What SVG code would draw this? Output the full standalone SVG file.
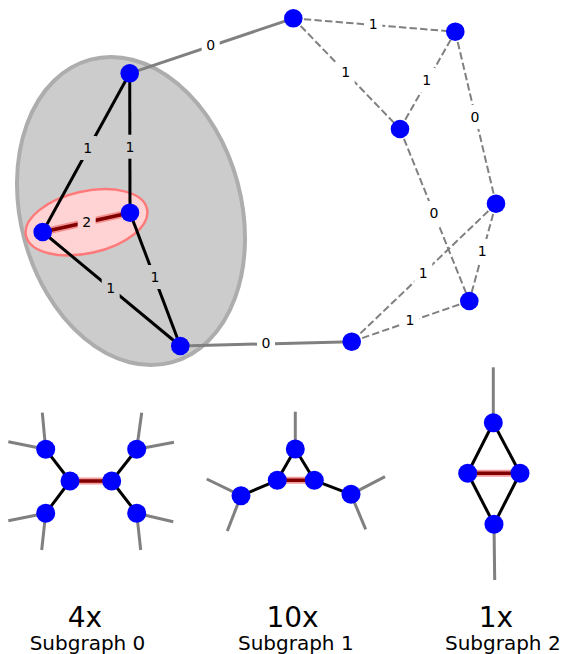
<svg xmlns="http://www.w3.org/2000/svg" width="566" height="654" viewBox="0 0 566 654">
<style>
.node{fill:#0000ff}
.solid{stroke:#808080;stroke-width:3;fill:none}
.dash{stroke:#808080;stroke-width:2;stroke-dasharray:7.4 3.2;fill:none}
.blk{stroke:#000;stroke-width:3;fill:none}
.halo{stroke:#f07070;stroke-width:7;stroke-opacity:0.7;fill:none}
.red{stroke:#800000;stroke-width:3.5;fill:none}
.stub{stroke:#808080;stroke-width:3;fill:none}
.lbl{font-family:"DejaVu Sans",Verdana,sans-serif;font-size:14px;fill:#000;text-anchor:middle}
.big{font-family:"DejaVu Sans",Verdana,sans-serif;font-size:28px;fill:#000;text-anchor:middle}
.cap{font-family:"DejaVu Sans",Verdana,sans-serif;font-size:20px;fill:#000;text-anchor:middle}
</style>
<defs>
<mask id="gaps" maskUnits="userSpaceOnUse" x="0" y="0" width="566" height="654">
<rect x="0" y="0" width="566" height="654" fill="#fff"/>
<g fill="#000">
<rect x="78.7" y="136" width="18" height="24"/>
<rect x="121" y="134.7" width="18" height="24"/>
<rect x="77.7" y="209.7" width="18" height="24"/>
<rect x="101.7" y="276" width="18" height="24"/>
<rect x="146" y="265" width="18" height="24"/>
<rect x="201.7" y="33" width="18" height="24"/>
<rect x="257" y="331" width="18" height="24"/>
<rect x="364.3" y="12" width="18" height="24"/>
<rect x="336.7" y="60.3" width="18" height="24"/>
<rect x="417.7" y="68" width="18" height="24"/>
<rect x="466" y="105" width="18" height="24"/>
<rect x="425" y="201" width="18" height="24"/>
<rect x="414.3" y="260.7" width="18" height="24"/>
<rect x="473.3" y="239" width="18" height="24"/>
<rect x="401" y="308" width="18" height="24"/>
</g>
</mask>
</defs>

<g id="cluster-outer">
<ellipse cx="131" cy="211" rx="110.3" ry="156.7" transform="rotate(-15 131 211)" fill="#cccccc" stroke="#adadad" stroke-width="4"/>
</g>
<g id="cluster-inner">
<ellipse cx="86.5" cy="222.3" rx="62" ry="31" transform="rotate(-12.5 86.5 222.3)" fill="#ffd3d3" stroke="#ff7b7b" stroke-width="2.5"/>
</g>

<g id="connectors" mask="url(#gaps)">
<line class="solid" x1="129.7" y1="73.3" x2="293.3" y2="18.3"/>
<line class="solid" x1="180.3" y1="346" x2="351.7" y2="341.7"/>
<line class="blk" x1="129.7" y1="73.3" x2="42.7" y2="232"/>
<line class="blk" x1="129.7" y1="73.3" x2="130" y2="212.7"/>
<line class="blk" x1="130" y1="212.7" x2="180.3" y2="346"/>
<line class="blk" x1="42.7" y1="232" x2="180.3" y2="346"/>
<line class="halo" x1="42.7" y1="232" x2="130" y2="212.7"/>
<line class="red" x1="42.7" y1="232" x2="130" y2="212.7"/>
<line class="dash" x1="293.3" y1="18.3" x2="455.3" y2="31.7"/>
<line class="dash" x1="293.3" y1="18.3" x2="400" y2="129"/>
<line class="dash" x1="400" y1="129" x2="455.3" y2="31.7"/>
<line class="dash" x1="455.3" y1="31.7" x2="496" y2="203.7"/>
<line class="dash" x1="400" y1="129" x2="469.3" y2="301"/>
<line class="dash" x1="496" y1="203.7" x2="351.7" y2="341.7"/>
<line class="dash" x1="496" y1="203.7" x2="469.3" y2="301"/>
<line class="dash" x1="469.3" y1="301" x2="351.7" y2="341.7"/>
</g>

<g id="edge-labels">
<text class="lbl" x="87.7" y="153.1">1</text>
<text class="lbl" x="130" y="151.8">1</text>
<text class="lbl" x="86.7" y="226.8">2</text>
<text class="lbl" x="110.7" y="293.1">1</text>
<text class="lbl" x="155" y="282.1">1</text>
<text class="lbl" x="210.7" y="50.1">0</text>
<text class="lbl" x="266" y="348.1">0</text>
<text class="lbl" x="373.3" y="29.1">1</text>
<text class="lbl" x="345.7" y="77.4">1</text>
<text class="lbl" x="426.7" y="85.1">1</text>
<text class="lbl" x="475" y="122.1">0</text>
<text class="lbl" x="434" y="218.1">0</text>
<text class="lbl" x="423.3" y="277.8">1</text>
<text class="lbl" x="482.3" y="256.1">1</text>
<text class="lbl" x="410" y="325.1">1</text>
</g>

<g id="node-A"><circle class="node" cx="129.7" cy="73.3" r="9.3"/></g>
<g id="node-B"><circle class="node" cx="130" cy="212.7" r="9.3"/></g>
<g id="node-C"><circle class="node" cx="42.7" cy="232" r="9.3"/></g>
<g id="node-D"><circle class="node" cx="180.3" cy="346" r="9.3"/></g>
<g id="node-E"><circle class="node" cx="293.3" cy="18.3" r="9.3"/></g>
<g id="node-F"><circle class="node" cx="455.3" cy="31.7" r="9.3"/></g>
<g id="node-G"><circle class="node" cx="400" cy="129" r="9.3"/></g>
<g id="node-H"><circle class="node" cx="496" cy="203.7" r="9.3"/></g>
<g id="node-I"><circle class="node" cx="469.3" cy="301" r="9.3"/></g>
<g id="node-J"><circle class="node" cx="351.7" cy="341.7" r="9.3"/></g>

<g id="subgraph-0">
<g class="connectors">
<line class="stub" x1="45.7" y1="449.3" x2="42.3" y2="412.7"/>
<line class="stub" x1="45.7" y1="449.3" x2="8.3" y2="441.7"/>
<line class="stub" x1="45.7" y1="513.3" x2="8.3" y2="520.7"/>
<line class="stub" x1="45.7" y1="513.3" x2="41.7" y2="550"/>
<line class="stub" x1="136.7" y1="449.3" x2="141.7" y2="412.7"/>
<line class="stub" x1="136.7" y1="449.3" x2="174" y2="442.3"/>
<line class="stub" x1="136.7" y1="513.3" x2="173.3" y2="521.7"/>
<line class="stub" x1="136.7" y1="513.3" x2="140.7" y2="550"/>
<line class="blk" x1="70" y1="481" x2="45.7" y2="449.3"/>
<line class="blk" x1="70" y1="481" x2="45.7" y2="513.3"/>
<line class="blk" x1="111.7" y1="481" x2="136.7" y2="449.3"/>
<line class="blk" x1="111.7" y1="481" x2="136.7" y2="513.3"/>
<line class="halo" x1="70" y1="481" x2="111.7" y2="481"/>
<line class="red" x1="70" y1="481" x2="111.7" y2="481"/>
</g>
<g id="s0-n1"><circle class="node" cx="45.7" cy="449.3" r="9.5"/></g>
<g id="s0-n2"><circle class="node" cx="45.7" cy="513.3" r="9.5"/></g>
<g id="s0-n3"><circle class="node" cx="70" cy="481" r="9.5"/></g>
<g id="s0-n4"><circle class="node" cx="111.7" cy="481" r="9.5"/></g>
<g id="s0-n5"><circle class="node" cx="136.7" cy="449.3" r="9.5"/></g>
<g id="s0-n6"><circle class="node" cx="136.7" cy="513.3" r="9.5"/></g>
</g>

<g id="subgraph-1">
<g class="connectors">
<line class="stub" x1="295.3" y1="449" x2="295.3" y2="411.7"/>
<line class="stub" x1="241" y1="495.7" x2="206.7" y2="479"/>
<line class="stub" x1="241" y1="495.7" x2="227.3" y2="531"/>
<line class="stub" x1="351" y1="494.3" x2="385" y2="476.7"/>
<line class="stub" x1="351" y1="494.3" x2="365.7" y2="529.3"/>
<line class="blk" x1="295.3" y1="449" x2="277.3" y2="480.3"/>
<line class="blk" x1="295.3" y1="449" x2="314.3" y2="480.3"/>
<line class="blk" x1="277.3" y1="480.3" x2="241" y2="495.7"/>
<line class="blk" x1="314.3" y1="480.3" x2="351" y2="494.3"/>
<line class="halo" x1="277.3" y1="480.3" x2="314.3" y2="480.3"/>
<line class="red" x1="277.3" y1="480.3" x2="314.3" y2="480.3"/>
</g>
<g id="s1-n1"><circle class="node" cx="295.3" cy="449" r="9.5"/></g>
<g id="s1-n2"><circle class="node" cx="277.3" cy="480.3" r="9.5"/></g>
<g id="s1-n3"><circle class="node" cx="314.3" cy="480.3" r="9.5"/></g>
<g id="s1-n4"><circle class="node" cx="241" cy="495.7" r="9.5"/></g>
<g id="s1-n5"><circle class="node" cx="351" cy="494.3" r="9.5"/></g>
</g>

<g id="subgraph-2">
<g class="connectors">
<line class="stub" x1="493.3" y1="422.7" x2="493.3" y2="367.3"/>
<line class="stub" x1="494" y1="524.3" x2="494.7" y2="580"/>
<line class="blk" x1="493.3" y1="422.7" x2="467.7" y2="473.3"/>
<line class="blk" x1="493.3" y1="422.7" x2="520" y2="473.3"/>
<line class="blk" x1="467.7" y1="473.3" x2="494" y2="524.3"/>
<line class="blk" x1="520" y1="473.3" x2="494" y2="524.3"/>
<line class="halo" x1="467.7" y1="473.3" x2="520" y2="473.3"/>
<line class="red" x1="467.7" y1="473.3" x2="520" y2="473.3"/>
</g>
<g id="s2-n1"><circle class="node" cx="493.3" cy="422.7" r="9.5"/></g>
<g id="s2-n2"><circle class="node" cx="467.7" cy="473.3" r="9.5"/></g>
<g id="s2-n3"><circle class="node" cx="520" cy="473.3" r="9.5"/></g>
<g id="s2-n4"><circle class="node" cx="494" cy="524.3" r="9.5"/></g>
</g>

<g id="captions">
<text class="big" x="85" y="626.7">4x</text>
<text class="cap" x="87.5" y="650">Subgraph 0</text>
<text class="big" x="292.5" y="626.7">10x</text>
<text class="cap" x="295.8" y="650">Subgraph 1</text>
<text class="big" x="496" y="626.7">1x</text>
<text class="cap" x="502.8" y="650">Subgraph 2</text>
</g>
</svg>
